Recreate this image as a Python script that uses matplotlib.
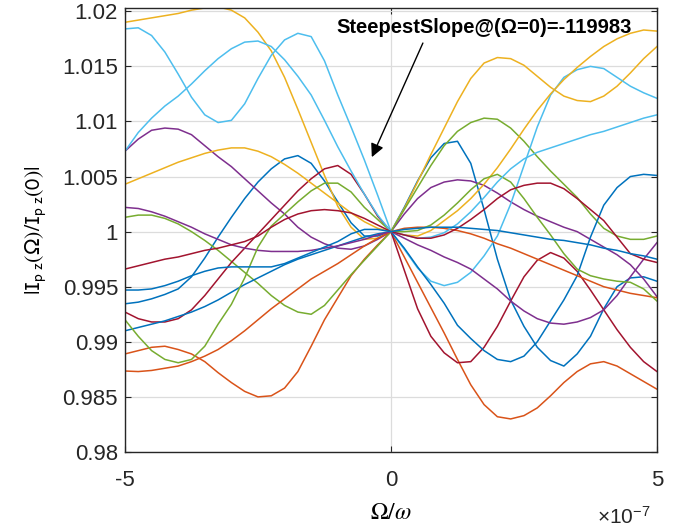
import numpy as np
import matplotlib
matplotlib.use("Agg")
import matplotlib.pyplot as plt

plt.rcParams['font.family'] = ['Liberation Sans', 'DejaVu Sans']
plt.rcParams['mathtext.fontset'] = 'custom'
plt.rcParams['mathtext.rm'] = 'Liberation Sans'
plt.rcParams['mathtext.it'] = 'Liberation Sans:italic'

# x in units of 1e-7 (Omega/omega)
omega = [-5, -4.75, -4.5, -4.25, -4, -3.75, -3.5, -3.25, -3, -2.75, -2.5, -2.25, -2, -1.75,
         -1.5, -1.25, -1, -0.75, -0.5, -0.25, 0, 0.25, 0.5, 0.75, 1, 1.25, 1.5, 1.75, 2,
         2.25, 2.5, 2.75, 3, 3.25, 3.5, 3.75, 4, 4.25, 4.5, 4.75, 5]

blue_1 = [0.99345, 0.9936, 0.9939, 0.9943, 0.9948, 0.9959, 0.9976, 0.9995, 1.0013, 1.0030, 1.0045,
          1.0057, 1.0066, 1.0069, 1.0062, 1.0046, 1.0027, 1.0008, 0.9996, 0.9996, 1.0,
          1.0022, 1.0046, 1.0067, 1.0080, 1.0082, 1.0062, 1.0020, 0.9975, 0.9938, 0.9914,
          0.9895, 0.9883, 0.9878, 0.9889, 0.9905, 0.9930, 0.9950, 0.9958, 0.9959, 0.9955]
orange_1 = [0.9889, 0.9892, 0.9895, 0.9896, 0.9893, 0.9889, 0.9882, 0.9872, 0.9863, 0.9855, 0.9850,
            0.9851, 0.9858, 0.9873, 0.9896, 0.9920, 0.9940, 0.9960, 0.9975, 0.9988, 1.0,
            0.9977, 0.9954, 0.9931, 0.9908, 0.9884, 0.9861, 0.9843, 0.9832, 0.9830, 0.9833,
            0.9840, 0.9851, 0.9863, 0.9873, 0.9880, 0.9882, 0.9878, 0.9871, 0.9864, 0.9857]
yellow_1 = [1.0190, 1.0192, 1.0194, 1.0196, 1.0198, 1.0201, 1.0203, 1.0204, 1.0201, 1.0194, 1.0181,
            1.0164, 1.0140, 1.0111, 1.0081, 1.0051, 1.0023, 1.0004, 0.9993, 0.9994, 1.0,
            1.0021, 1.0045, 1.0070, 1.0094, 1.0118, 1.0139, 1.0153, 1.0158, 1.0157, 1.0151,
            1.0141, 1.0131, 1.0123, 1.0119, 1.0118, 1.0123, 1.0132, 1.0144, 1.0157, 1.0168]
purple_1 = [1.0073, 1.0084, 1.0092, 1.0094, 1.0093, 1.0088, 1.0078, 1.0068, 1.0059, 1.0048, 1.0037,
            1.0026, 1.0016, 1.0004, 0.9995, 0.9989, 0.9985, 0.9984, 0.9987, 0.9993, 1.0,
            1.0016, 1.0030, 1.0040, 1.0045, 1.0047, 1.0046, 1.0042, 1.0035, 1.0027, 1.0020,
            1.0014, 1.0009, 1.0004, 1.0000, 0.9993, 0.9986, 0.9979, 0.9970, 0.9957, 0.9941]
green_1 = [1.0013, 1.0015, 1.0015, 1.0012, 1.0007, 1.0000, 0.9992, 0.9983, 0.9973, 0.9963, 0.9953,
           0.9942, 0.9933, 0.9927, 0.9925, 0.9933, 0.9947, 0.9961, 0.9974, 0.9987, 1.0,
           1.0020, 1.0040, 1.0060, 1.0078, 1.0091, 1.0099, 1.0103, 1.0102, 1.0094, 1.0082,
           1.0068, 1.0055, 1.0043, 1.0031, 1.0016, 1.0003, 0.9996, 0.9993, 0.9993, 0.9996]
cyan_1 = [1.0184, 1.0185, 1.0178, 1.0163, 1.0143, 1.0122, 1.0106, 1.0099, 1.0101, 1.0116, 1.0139,
          1.0160, 1.0174, 1.0180, 1.0177, 1.0155, 1.0124, 1.0095, 1.0065, 1.0033, 1.0,
          0.9984, 0.9967, 0.9955, 0.9951, 0.9954, 0.9963, 0.9978, 0.9996, 1.0025, 1.0060,
          1.0095, 1.0124, 1.0140, 1.0147, 1.0150, 1.0148, 1.0140, 1.0132, 1.0126, 1.0121]
darkred_1 = [0.9927, 0.9921, 0.9918, 0.9918, 0.9921, 0.9929, 0.9942, 0.9957, 0.9972, 0.9985, 0.9998,
             1.0011, 1.0024, 1.0037, 1.0048, 1.0057, 1.0060, 1.0052, 1.0034, 1.0014, 1.0,
             0.9965, 0.9930, 0.9905, 0.9890, 0.9881, 0.9882, 0.9895, 0.9914, 0.9937, 0.9959,
             0.9974, 0.9981, 0.9976, 0.9964, 0.9947, 0.9929, 0.9911, 0.9895, 0.9882, 0.9873]
blue_2 = [0.9910, 0.9913, 0.9916, 0.9919, 0.9923, 0.9927, 0.9932, 0.9938, 0.9945, 0.9952, 0.9958,
          0.9964, 0.9970, 0.9975, 0.9979, 0.9983, 0.9987, 0.9991, 0.9995, 0.9998, 1.0,
          0.9985, 0.9968, 0.9952, 0.9935, 0.9915, 0.9903, 0.9892, 0.9884, 0.9882, 0.9887,
          0.9900, 0.9919, 0.9938, 0.9960, 0.9995, 1.0024, 1.0040, 1.0050, 1.0052, 1.0051]
orange_2 = [0.98735, 0.9873, 0.9874, 0.9876, 0.9878, 0.9882, 0.9887, 0.9893, 0.9901, 0.9910, 0.9920,
            0.9930, 0.9939, 0.9948, 0.9957, 0.9964, 0.9971, 0.9979, 0.9987, 0.9994, 1.0,
            1.0003, 1.0004, 1.0004, 1.0003, 1.0001, 0.9998, 0.9994, 0.9989, 0.9985, 0.9980,
            0.9975, 0.9970, 0.9965, 0.9960, 0.9955, 0.9950, 0.9947, 0.9944, 0.9942, 0.9940]
yellow_2 = [1.0043, 1.0048, 1.0053, 1.0058, 1.0063, 1.0067, 1.0071, 1.0074, 1.0076, 1.0076, 1.0073,
            1.0068, 1.0061, 1.0053, 1.0044, 1.0035, 1.0026, 1.0017, 1.0009, 1.0003, 1.0,
            0.9997, 0.9996, 1.0001, 1.0010, 1.0019, 1.0030, 1.0043, 1.0058, 1.0075, 1.0093,
            1.0110, 1.0125, 1.0138, 1.0149, 1.0159, 1.0168, 1.0175, 1.0180, 1.0183, 1.0182]
purple_2 = [1.0022, 1.0021, 1.0018, 1.0014, 1.0009, 1.0004, 0.9998, 0.9993, 0.9988, 0.9985, 0.9983,
            0.9982, 0.9982, 0.9982, 0.9983, 0.9985, 0.9987, 0.9990, 0.9993, 0.9997, 1.0,
            0.9994, 0.9988, 0.9983, 0.9977, 0.9972, 0.9966, 0.9957, 0.9948, 0.9937, 0.9928,
            0.9921, 0.9917, 0.9916, 0.9918, 0.9922, 0.9929, 0.9942, 0.9959, 0.9975, 0.9990]
green_2 = [0.9920, 0.9905, 0.9892, 0.9884, 0.9881, 0.9884, 0.9896, 0.9916, 0.9934, 0.9958, 0.9986,
           1.0005, 1.0016, 1.0027, 1.0037, 1.0044, 1.0044, 1.0036, 1.0022, 1.0011, 1.0,
           1.0000, 1.0001, 1.0006, 1.0015, 1.0026, 1.0038, 1.0048, 1.0052, 1.0045, 1.0030,
           1.0013, 0.9997, 0.9980, 0.9966, 0.9960, 0.9957, 0.9955, 0.9954, 0.9948, 0.9937]
cyan_2 = [1.0073, 1.0090, 1.0103, 1.0114, 1.0123, 1.0134, 1.0146, 1.0157, 1.0166, 1.0172, 1.0173,
          1.0168, 1.0156, 1.0141, 1.0124, 1.0101, 1.0077, 1.0055, 1.0034, 1.0015, 1.0,
          0.9997, 0.9994, 0.9995, 0.9999, 1.0007, 1.0018, 1.0031, 1.0045, 1.0057, 1.0066,
          1.0072, 1.0076, 1.0080, 1.0084, 1.0088, 1.0091, 1.0095, 1.0099, 1.0103, 1.0106]
darkred_2 = [0.9966, 0.9969, 0.9972, 0.9975, 0.9977, 0.9980, 0.9983, 0.9985, 0.9988, 0.9991, 0.9996,
             1.0004, 1.0011, 1.0016, 1.0019, 1.0020, 1.0019, 1.0017, 1.0012, 1.0006, 1.0,
             0.9997, 0.9994, 0.9994, 0.9997, 1.0003, 1.0011, 1.0020, 1.0030, 1.0038, 1.0042,
             1.0044, 1.0044, 1.0039, 1.0030, 1.0020, 1.0010, 0.9995, 0.9980, 0.9975, 0.9972]
blue_3 = [0.9947, 0.9947, 0.9948, 0.9951, 0.9955, 0.9960, 0.9964, 0.9967, 0.9968, 0.9968, 0.9968,
          0.9968, 0.9971, 0.9976, 0.9981, 0.9986, 0.9991, 0.9998, 1.0002, 1.0002, 1.0,
          1.0002, 1.0003, 1.0004, 1.0004, 1.0004, 1.0003, 1.0002, 1.0001, 0.9999, 0.9997,
          0.9995, 0.9993, 0.9992, 0.9990, 0.9988, 0.9985, 0.9983, 0.9980, 0.9978, 0.9975]

series = [blue_1, orange_1, yellow_1, purple_1, green_1, cyan_1, darkred_1,
          blue_2, orange_2, yellow_2, purple_2, green_2, cyan_2, darkred_2, blue_3]
colors = ['#0072BD', '#D95319', '#EDB120', '#7E2F8E', '#77AC30', '#4DBEEE', '#A2142F']

x_ticks = [-5, 0, 5]
x_tick_labels = ['-5', '0', '5']
y_ticks = [0.98, 0.985, 0.99, 0.995, 1.0, 1.005, 1.01, 1.015, 1.02]
y_tick_labels = ['0.98', '0.985', '0.99', '0.995', '1', '1.005', '1.01', '1.015', '1.02']

fig = plt.figure(figsize=(6.89, 5.31), dpi=100)
ax = fig.add_axes([0.1814, 0.1488, 0.7721, 0.8362])

xs = np.array(omega) * 1e-7
for i, s in enumerate(series):
    ax.plot(xs, s, color=colors[i % 7], lw=1.1, solid_joinstyle='round')

ax.set_xlim(-5e-7, 5e-7)
ax.set_ylim(0.98, 1.0203)
ax.set_xticks(np.array(x_ticks) * 1e-7)
ax.set_xticklabels(x_tick_labels)
ax.set_yticks(y_ticks)
ax.set_yticklabels(y_tick_labels)

ax.grid(True, color='#dcdcdc', lw=0.9)
ax.set_axisbelow(True)
for sp in ax.spines.values():
    sp.set_color('#262626')
    sp.set_linewidth(1.0)
ax.tick_params(direction='in', length=4, width=0.8, colors='#262626',
               labelsize=16, top=True, right=True)
ax.tick_params(axis='x', pad=13)
ax.tick_params(axis='y', pad=5)

ax.set_xlabel(r'$\Omega/\omega$', fontsize=17, math_fontfamily='stix')
ax.xaxis.set_label_coords(0.5, -0.112)
ax.set_ylabel(r'$|\mathrm{I}_{\mathrm{p\ z}}(\Omega)/\mathrm{I}_{\mathrm{p\ z}}(0)|$',
              fontsize=16, math_fontfamily='stixsans')
ax.yaxis.set_label_coords(-0.145, 0.5)

ax.text(0.887, -0.146, r'$\times$10$^{-7}$', transform=ax.transAxes,
        fontsize=15, ha='left', va='center', color='#262626')

ax.annotate('', xy=(0.464, 0.664), xytext=(0.560, 0.921),
            xycoords='axes fraction', textcoords='axes fraction',
            arrowprops=dict(arrowstyle='-|>', color='black', lw=1.0,
                            mutation_scale=20, shrinkA=0, shrinkB=0))
ax.text(0.675, 0.955, 'SteepestSlope@(\u03a9=0)=-119983', transform=ax.transAxes,
        fontsize=14.5, fontweight='bold', ha='center', va='center', color='black')

fig.savefig('out.png', dpi=100)
